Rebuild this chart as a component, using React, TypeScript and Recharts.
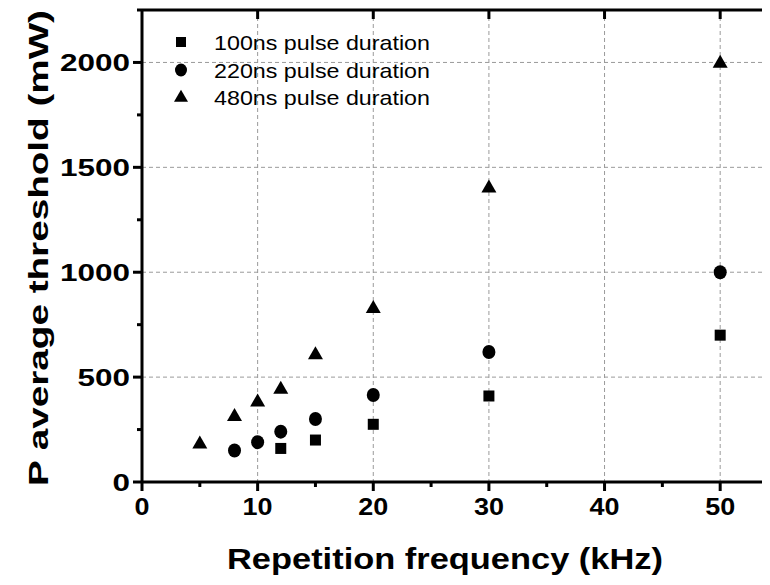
import { ScatterChart, Scatter, XAxis, YAxis, CartesianGrid, Legend, ReferenceLine } from 'recharts'

// axis ticks + grid
const xTicks = [0, 5, 10, 15, 20, 25, 30, 35, 40, 45, 50, 55]
const yTicks = [0, 250, 500, 750, 1000, 1250, 1500, 1750, 2000, 2250]
const xGrid = [10, 20, 30, 40, 50]
const yGrid = [500, 1000, 1500, 2000]

// repetition frequency (kHz) vs average threshold power (mW)
const freq100 = [12, 15, 20, 30, 50]
const power100 = [160, 200, 275, 410, 700]
const freq220 = [8, 10, 12, 15, 20, 30, 50]
const power220 = [150, 190, 240, 300, 415, 620, 1000]
const freq480 = [5, 8, 10, 12, 15, 20, 30, 50]
const power480 = [185, 315, 385, 445, 610, 830, 1405, 2000]

const seriesNames = ['100ns pulse duration', '220ns pulse duration', '480ns pulse duration']

const FONT = '"Liberation Sans", Arial, sans-serif'

// chart box
const W = 800
const H = 585
const MARGIN = { top: 10, right: 22, bottom: 0, left: 0 }
const Y_AXIS_W = 142
const X_AXIS_H = 103
const PLOT_W = W - MARGIN.right - Y_AXIS_W
const PLOT_H = H - MARGIN.top - X_AXIS_H

const toPoints = (xs: number[], ys: number[]) => xs.map((x, i) => ({ x, y: ys[i] }))

const Square = ({ cx, cy, s = 11 }: any) => (
  <rect x={cx - s / 2} y={cy - s / 2} width={s} height={s} fill="#000" />
)
const Dot = ({ cx, cy, rx = 6.5, ry = 7 }: any) => <ellipse cx={cx} cy={cy} rx={rx} ry={ry} fill="#000" />
const Tri = ({ cx, cy, w = 15, h = 13 }: any) => (
  <polygon points={`${cx},${cy - h * 0.6} ${cx - w / 2},${cy + h * 0.4} ${cx + w / 2},${cy + h * 0.4}`} fill="#000" />
)

const series = [
  { name: seriesNames[0], data: toPoints(freq100, power100), shape: Square },
  { name: seriesNames[1], data: toPoints(freq220, power220), shape: Dot },
  { name: seriesNames[2], data: toPoints(freq480, power480), shape: Tri },
]

// bottom ticks (outward) + inward ticks on the top frame
const XTick = ({ x, y, payload }: any) => {
  const v = payload.value
  const major = v % 10 === 0
  const showTop = major && v > 0 && v < 55
  return (
    <g>
      <line x1={x} x2={x} y1={y} y2={y + (major ? 9 : 5)} stroke="#000" strokeWidth={3} />
      {showTop && <line x1={x} x2={x} y1={y - PLOT_H} y2={y - PLOT_H + 9} stroke="#000" strokeWidth={3} />}
      {major && (
        <text x={x} y={y + 33} textAnchor="middle" fontFamily={FONT} fontWeight="bold" fontSize={24}
          textLength={15 * String(v).length} lengthAdjust="spacingAndGlyphs" fill="#000">
          {v}
        </text>
      )}
    </g>
  )
}

// left ticks (outward) + inward ticks on the right frame
const YTick = ({ x, y, payload }: any) => {
  const v = payload.value
  const major = v % 500 === 0
  const showRight = major && v > 0 && v < 2250
  return (
    <g>
      <line x1={x - (major ? 9 : 5)} x2={x} y1={y} y2={y} stroke="#000" strokeWidth={3} />
      {showRight && <line x1={x + PLOT_W - 9} x2={x + PLOT_W} y1={y} y2={y} stroke="#000" strokeWidth={3} />}
      {major && (
        <text x={x - 12} y={y + 8.5} textAnchor="end" fontFamily={FONT} fontWeight="bold" fontSize={24}
          textLength={17.5 * String(v).length} lengthAdjust="spacingAndGlyphs" fill="#000">
          {v}
        </text>
      )}
    </g>
  )
}

const XTitle = () => (
  <text x={445} y={569} textAnchor="middle" fontFamily={FONT} fontWeight="bold" fontSize={29}
    textLength={436} lengthAdjust="spacingAndGlyphs" fill="#000">
    Repetition frequency (kHz)
  </text>
)

const YTitle = () => (
  <text x={48} y={248} transform="rotate(-90 48 248)" textAnchor="middle" fontFamily={FONT} fontWeight="bold"
    fontSize={28} textLength={476} lengthAdjust="spacingAndGlyphs" fill="#000">
    P average threshold (mW)
  </text>
)

const LegendBox = () => {
  const rows = [14, 42, 69]
  return (
    <svg width={300} height={100} style={{ display: 'block' }}>
      {series.map((s, i) => {
        const cy = rows[i]
        const Shape = s.shape
        return (
          <g key={s.name}>
            {i === 0 && <Shape cx={11} cy={cy} s={10} />}
            {i === 1 && <Shape cx={11} cy={cy} rx={6} ry={6.5} />}
            {i === 2 && <Shape cx={11} cy={cy} w={14} h={12} />}
            <text x={44} y={cy + 7.5} fontFamily={FONT} fontSize={21} textLength={216}
              lengthAdjust="spacingAndGlyphs" fill="#000">
              {s.name}
            </text>
          </g>
        )
      })}
    </svg>
  )
}

export default function App() {
  return (
    <div style={{ marginLeft: -8, marginTop: -8, width: 770, height: 585, overflow: 'hidden', background: '#fff', position: 'relative' }}>
      <ScatterChart width={W} height={H} margin={MARGIN}>
        <CartesianGrid horizontalValues={yGrid} verticalValues={xGrid} stroke="#9a9a9a" strokeDasharray="4 3" />
        <XAxis type="number" dataKey="x" domain={[0, 55]} ticks={xTicks} interval={0} height={X_AXIS_H}
          axisLine={{ stroke: '#000', strokeWidth: 3 }} tickLine={false} tickSize={0} tickMargin={0}
          tick={(p: any) => <XTick {...p} />} label={<XTitle />} />
        <YAxis type="number" dataKey="y" domain={[0, 2250]} ticks={yTicks} interval={0} width={Y_AXIS_W}
          axisLine={{ stroke: '#000', strokeWidth: 3 }} tickLine={false} tickSize={0} tickMargin={0}
          tick={(p: any) => <YTick {...p} />} label={<YTitle />} />
        {/* top + right frame lines */}
        <ReferenceLine y={2250} stroke="#000" strokeWidth={3} ifOverflow="visible" />
        <ReferenceLine x={55} stroke="#000" strokeWidth={3} ifOverflow="visible" />
        <Legend layout="horizontal" verticalAlign="middle" align="center" content={() => <LegendBox />}
          wrapperStyle={{ left: 170, top: 28, width: 300, height: 100 }} />
        {series.map((s) => (
          <Scatter key={s.name} name={s.name} data={s.data} fill="#000" isAnimationActive={false}
            shape={(p: any) => <s.shape cx={p.cx} cy={p.cy} />} />
        ))}
      </ScatterChart>
    </div>
  )
}
